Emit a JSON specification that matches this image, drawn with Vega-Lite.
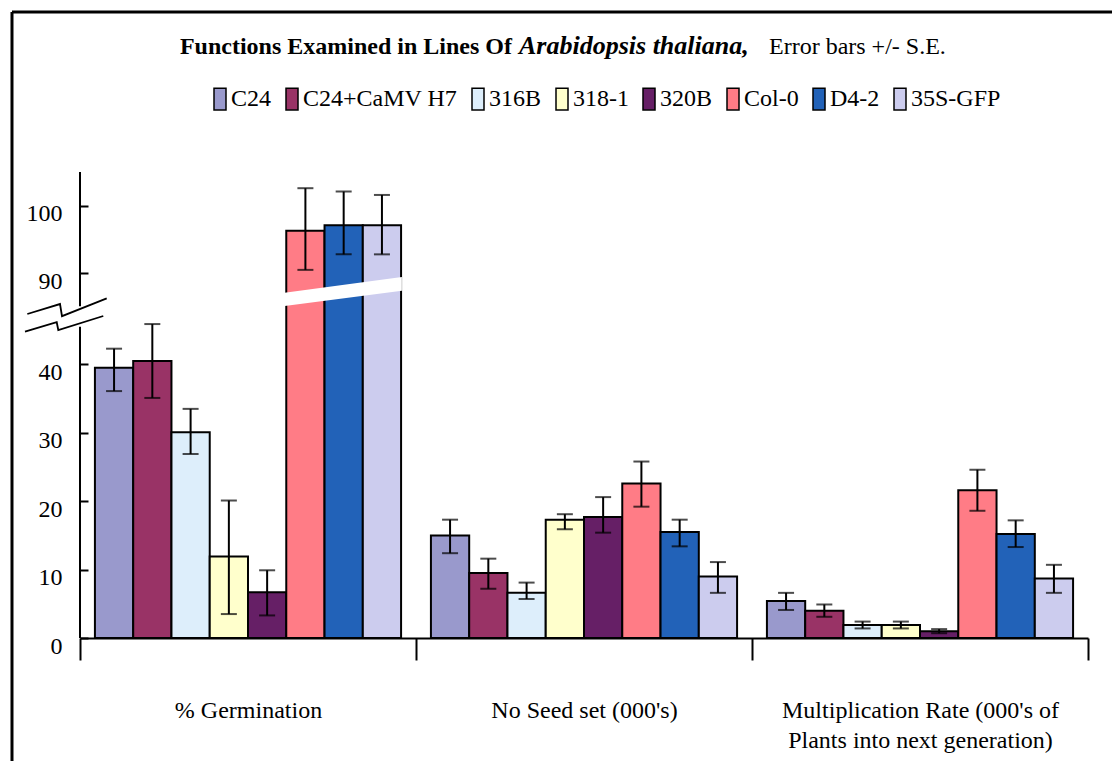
{
  "$schema": "https://vega.github.io/schema/vega-lite/v6.json",
  "width": 1008,
  "height": 466,
  "autosize": {"type": "none"},
  "padding": {"left": 80, "top": 172, "right": 24, "bottom": 123},
  "background": "white",
  "config": {"view": {"stroke": null}, "font": "Liberation Serif"},
  "datasets": {
    "bars": [
      {"measure": "% Germination", "line": "C24", "value": 39.5, "lo": 36.1, "hi": 42.3},
      {"measure": "% Germination", "line": "C24+CaMV H7", "value": 40.5, "lo": 35.1, "hi": 45.9},
      {"measure": "% Germination", "line": "316B", "value": 30.1, "lo": 26.9, "hi": 33.5},
      {"measure": "% Germination", "line": "318-1", "value": 11.9, "lo": 3.5, "hi": 20.1},
      {"measure": "% Germination", "line": "320B", "value": 6.7, "lo": 3.3, "hi": 9.9},
      {"measure": "% Germination", "line": "Col-0", "value": 96.3, "lo": 90.5, "hi": 102.6},
      {"measure": "% Germination", "line": "D4-2", "value": 97.1, "lo": 92.8, "hi": 102.1},
      {"measure": "% Germination", "line": "35S-GFP", "value": 97.1, "lo": 92.8, "hi": 101.6},
      {"measure": "No Seed set (000's)", "line": "C24", "value": 15.0, "lo": 12.4, "hi": 17.3},
      {"measure": "No Seed set (000's)", "line": "C24+CaMV H7", "value": 9.5, "lo": 7.2, "hi": 11.6},
      {"measure": "No Seed set (000's)", "line": "316B", "value": 6.6, "lo": 5.7, "hi": 8.1},
      {"measure": "No Seed set (000's)", "line": "318-1", "value": 17.3, "lo": 15.9, "hi": 18.1},
      {"measure": "No Seed set (000's)", "line": "320B", "value": 17.7, "lo": 15.4, "hi": 20.6},
      {"measure": "No Seed set (000's)", "line": "Col-0", "value": 22.6, "lo": 19.2, "hi": 25.8},
      {"measure": "No Seed set (000's)", "line": "D4-2", "value": 15.5, "lo": 13.4, "hi": 17.3},
      {"measure": "No Seed set (000's)", "line": "35S-GFP", "value": 9.0, "lo": 6.6, "hi": 11.1},
      {"measure": "Multiplication Rate (000's of Plants into next generation)", "line": "C24", "value": 5.4, "lo": 4.1, "hi": 6.6},
      {"measure": "Multiplication Rate (000's of Plants into next generation)", "line": "C24+CaMV H7", "value": 4.0, "lo": 3.1, "hi": 4.9},
      {"measure": "Multiplication Rate (000's of Plants into next generation)", "line": "316B", "value": 1.9, "lo": 1.4, "hi": 2.4},
      {"measure": "Multiplication Rate (000's of Plants into next generation)", "line": "318-1", "value": 1.9, "lo": 1.4, "hi": 2.4},
      {"measure": "Multiplication Rate (000's of Plants into next generation)", "line": "320B", "value": 1.0, "lo": 0.7, "hi": 1.3},
      {"measure": "Multiplication Rate (000's of Plants into next generation)", "line": "Col-0", "value": 21.6, "lo": 18.6, "hi": 24.6},
      {"measure": "Multiplication Rate (000's of Plants into next generation)", "line": "D4-2", "value": 15.2, "lo": 13.3, "hi": 17.2},
      {"measure": "Multiplication Rate (000's of Plants into next generation)", "line": "35S-GFP", "value": 8.7, "lo": 6.6, "hi": 10.7}
    ],
    "breakBand": [
      {"gx": 0.609, "lo": 85.15, "hi": 87.12},
      {"gx": 0.958, "lo": 87.41, "hi": 89.44}
    ],
    "axisParts": [
      {"lo": 0, "hi": 45.5},
      {"lo": 85.1, "hi": 105}
    ],
    "breakMarks": [
      {"seg": "upper", "k": 1, "gx": -0.1568, "gy": 47.37},
      {"seg": "upper", "k": 2, "gx": -0.0595, "gy": 85.44},
      {"seg": "upper", "k": 3, "gx": -0.0536, "gy": 47.05},
      {"seg": "upper", "k": 4, "gx": 0.0795, "gy": 86.29},
      {"seg": "lower", "k": 1, "gx": -0.1637, "gy": 44.79},
      {"seg": "lower", "k": 2, "gx": -0.0693, "gy": 46.17},
      {"seg": "lower", "k": 3, "gx": -0.0646, "gy": 45.03},
      {"seg": "lower", "k": 4, "gx": 0.0693, "gy": 47.08}
    ]
  },
  "resolve": {"scale": {"x": "independent"}},
  "layer": [
    {
      "data": {"name": "bars"},
      "layer": [
        {
          "mark": {"type": "bar", "stroke": "black", "strokeWidth": 2},
          "encoding": {
            "x": {
              "field": "measure", "type": "nominal", "sort": null,
              "scale": {"paddingInner": 0, "paddingOuter": 0},
              "axis": {
                "title": null, "labelAngle": 0,
                "labelFont": "Liberation Serif", "labelFontSize": 24, "labelColor": "black",
                "labelBaseline": "top", "labelPadding": 38, "labelLineHeight": 30, "labelLimit": 0,
                "labelExpr": "datum.value == \"Multiplication Rate (000's of Plants into next generation)\" ? [\"Multiplication Rate (000's of\", \"Plants into next generation)\"] : datum.label",
                "tickBand": "extent", "tickSize": 22, "tickWidth": 2, "tickColor": "black",
                "domainColor": "black", "domainWidth": 2
              }
            },
            "xOffset": {"field": "line", "type": "nominal", "sort": null, "scale": {"paddingInner": 0, "paddingOuter": 0.39}},
            "y": {
              "field": "value", "type": "quantitative", "title": null,
              "scale": {"domain": [0, 48, 85, 105], "range": [466, 137.7, 135, 0], "nice": false, "zero": false},
              "axis": {
                "title": null, "domain": false, "grid": false,
                "values": [0, 5, 10, 15, 20, 25, 30, 35, 40, 45, 90, 95, 100, 105],
                "tickSize": -8, "tickWidth": 2, "tickColor": "black",
                "labelFont": "Liberation Serif", "labelFontSize": 24, "labelColor": "black",
                "labelPadding": 26, "labelOffset": 8,
                "labelExpr": "datum.value % 10 == 0 ? datum.label : ''"
              }
            },
            "color": {
              "field": "line", "type": "nominal", "sort": null,
              "scale": {
                "domain": ["C24", "C24+CaMV H7", "316B", "318-1", "320B", "Col-0", "D4-2", "35S-GFP"],
                "range": ["#9999CC", "#993366", "#DDEEFB", "#FFFFCC", "#661F66", "#FF7C86", "#2262B8", "#CCCCEE"]
              },
              "legend": {
                "title": null, "orient": "none", "direction": "horizontal", "columns": 8,
                "legendX": 128, "legendY": -85, "padding": 0,
                "symbolType": "M-1,-1.8H1V1.8H-1Z", "symbolSize": 144,
                "labelFont": "Liberation Serif", "labelFontSize": 24, "labelColor": "black",
                "labelOffset": -1, "columnPadding": 8, "labelLimit": 0,
                "encode": {"symbols": {"update": {"stroke": {"value": "black"}, "strokeWidth": {"value": 2.5}, "opacity": {"value": 1}}}}
              }
            }
          }
        },
        {
          "mark": {"type": "rule", "color": "black", "strokeWidth": 2},
          "encoding": {
            "x": {"field": "measure", "type": "nominal", "sort": null},
            "xOffset": {"field": "line", "type": "nominal", "sort": null},
            "y": {"field": "lo", "type": "quantitative", "title": null},
            "y2": {"field": "hi"}
          }
        },
        {
          "mark": {"type": "tick", "color": "black", "size": 16, "thickness": 2, "orient": "horizontal"},
          "encoding": {
            "x": {"field": "measure", "type": "nominal", "sort": null},
            "xOffset": {"field": "line", "type": "nominal", "sort": null},
            "y": {"field": "lo", "type": "quantitative", "title": null}
          }
        },
        {
          "mark": {"type": "tick", "color": "black", "size": 16, "thickness": 2, "orient": "horizontal"},
          "encoding": {
            "x": {"field": "measure", "type": "nominal", "sort": null},
            "xOffset": {"field": "line", "type": "nominal", "sort": null},
            "y": {"field": "hi", "type": "quantitative", "title": null}
          }
        }
      ]
    },
    {
      "layer": [
        {
          "data": {"name": "breakBand"},
          "mark": {"type": "area", "color": "white", "opacity": 1},
          "encoding": {
            "x": {"field": "gx", "type": "quantitative", "scale": {"domain": [0, 3], "nice": false, "zero": false}, "axis": null},
            "y": {"field": "lo", "type": "quantitative", "title": null},
            "y2": {"field": "hi"}
          }
        },
        {
          "data": {"name": "axisParts"},
          "mark": {"type": "rule", "color": "black", "strokeWidth": 2},
          "encoding": {
            "x": {"datum": 0, "type": "quantitative", "scale": {"domain": [0, 3], "nice": false, "zero": false}, "axis": null},
            "y": {"field": "lo", "type": "quantitative", "title": null},
            "y2": {"field": "hi"}
          }
        },
        {
          "data": {"name": "breakMarks"},
          "mark": {"type": "line", "color": "black", "strokeWidth": 1.8},
          "encoding": {
            "x": {"field": "gx", "type": "quantitative", "scale": {"domain": [0, 3], "nice": false, "zero": false}, "axis": null},
            "y": {"field": "gy", "type": "quantitative", "title": null},
            "detail": {"field": "seg"},
            "order": {"field": "k"}
          }
        },
        {
          "data": {"values": [{}]},
          "mark": {"type": "rule", "color": "black", "strokeWidth": 3},
          "encoding": {
            "x": {"datum": -0.2024, "type": "quantitative", "scale": {"domain": [0, 3], "nice": false, "zero": false}, "axis": null},
            "y": {"datum": -20, "type": "quantitative", "title": null},
            "y2": {"datum": 128.7}
          }
        },
        {
          "data": {"values": [{}]},
          "mark": {"type": "rule", "color": "black", "strokeWidth": 3},
          "encoding": {
            "x": {"datum": -0.2024, "type": "quantitative", "scale": {"domain": [0, 3], "nice": false, "zero": false}, "axis": null},
            "x2": {"datum": 3.3},
            "y": {"datum": 128.7, "type": "quantitative", "title": null}
          }
        },
        {
          "data": {"values": [{}]},
          "mark": {"type": "text", "text": "Functions Examined in Lines Of", "font": "Liberation Serif", "fontSize": 24, "fontWeight": "bold", "align": "right", "baseline": "alphabetic", "color": "black"},
          "encoding": {
            "x": {"datum": 1.2857, "type": "quantitative", "scale": {"domain": [0, 3], "nice": false, "zero": false}, "axis": null},
            "y": {"datum": 122.5, "type": "quantitative", "title": null}
          }
        },
        {
          "data": {"values": [{}]},
          "mark": {"type": "text", "text": "Arabidopsis thaliana,", "font": "Liberation Serif", "fontSize": 26, "fontWeight": "bold", "fontStyle": "italic", "align": "left", "baseline": "alphabetic", "color": "black"},
          "encoding": {
            "x": {"datum": 1.3065, "type": "quantitative", "scale": {"domain": [0, 3], "nice": false, "zero": false}, "axis": null},
            "y": {"datum": 122.5, "type": "quantitative", "title": null}
          }
        },
        {
          "data": {"values": [{}]},
          "mark": {"type": "text", "text": "Error bars +/- S.E.", "font": "Liberation Serif", "fontSize": 24, "align": "left", "baseline": "alphabetic", "color": "black"},
          "encoding": {
            "x": {"datum": 2.0506, "type": "quantitative", "scale": {"domain": [0, 3], "nice": false, "zero": false}, "axis": null},
            "y": {"datum": 122.5, "type": "quantitative", "title": null}
          }
        }
      ]
    }
  ]
}
